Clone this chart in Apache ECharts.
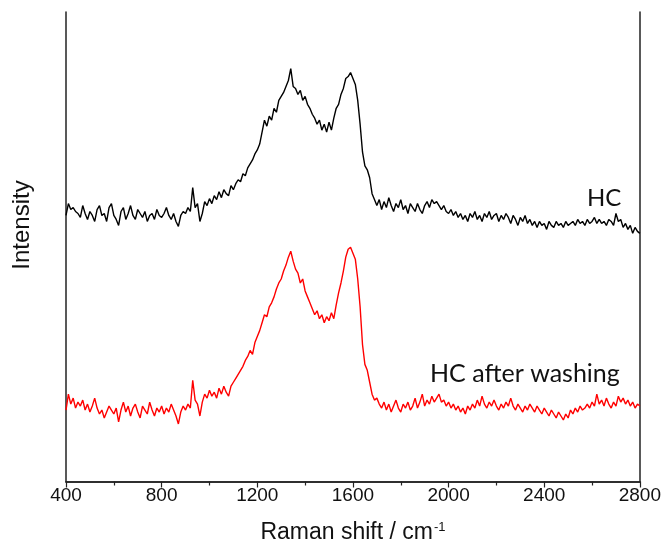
<!DOCTYPE html>
<html>
<head>
<meta charset="utf-8">
<script src="https://cdn.jsdelivr.net/npm/echarts@6/dist/echarts.min.js"></script>
<style>
  html, body { margin: 0; padding: 0; background: #fff; }
  #chart { width: 664px; height: 549px; }
</style>
</head>
<body>
<div id="chart"></div>
<script>
// Raman shift sampled every 10 cm-1 from 400 to 2800
const shiftStart = 400;
const shiftStep = 10;
const xTicks = [400, 800, 1200, 1600, 2000, 2400, 2800];

// intensity, arbitrary units
const hcIntensity = [
  268, 280, 274, 276, 272, 270, 266, 278, 270, 264,
  272, 268, 262, 274, 278, 268, 270, 262, 276, 280,
  268, 264, 258, 272, 276, 264, 270, 278, 268, 264,
  274, 270, 266, 272, 262, 268, 270, 264, 274, 268,
  266, 270, 276, 268, 264, 270, 262, 257, 268, 272,
  270, 276, 272, 296, 276, 280, 262, 270, 282, 278,
  285, 280, 288, 284, 292, 286, 294, 290, 288, 298,
  294, 300, 304, 302, 310, 308, 316, 320, 324, 330,
  334, 340, 352, 364, 358, 368, 364, 376, 372, 384,
  388, 392, 398, 404, 416, 398, 396, 390, 394, 384,
  388, 380, 376, 370, 366, 360, 364, 354, 360, 352,
  362, 354, 366, 376, 380, 390, 396, 406, 408, 412,
  406, 400, 384, 360, 332, 318, 314, 306, 290, 284,
  278, 284, 274, 282, 276, 286, 278, 272, 280, 276,
  284, 274, 278, 270, 280, 276, 272, 280, 274, 270,
  278, 282, 276, 284, 280, 282, 278, 274, 278, 272,
  270, 274, 268, 272, 266, 270, 264, 268, 262, 270,
  266, 272, 264, 268, 262, 270, 266, 272, 264, 268,
  270, 262, 268, 264, 270, 266, 260, 268, 264, 258,
  266, 262, 268, 260, 264, 258, 262, 256, 262, 258,
  260, 254, 262, 258, 256, 262, 258, 260, 256, 262,
  258, 260, 262, 258, 264, 260, 262, 258, 264, 260,
  262, 266, 260, 264, 260, 262, 258, 264, 262, 258,
  270, 262, 264, 256, 260, 254, 258, 250, 256, 252,
  250
];

const washedIntensity = [
  72, 88, 78, 84, 74, 80, 76, 82, 72, 78,
  70, 76, 84, 74, 68, 72, 64, 70, 76, 72,
  68, 74, 60, 72, 80, 70, 76, 66, 74, 78,
  70, 64, 76, 72, 68, 80, 72, 66, 74, 70,
  76, 68, 74, 70, 78, 72, 66, 58, 70, 76,
  72, 78, 74, 102, 82, 78, 66, 80, 88, 84,
  92, 86, 90, 84, 94, 88, 96, 90, 86, 96,
  100, 104, 108, 112, 116, 122, 126, 132, 128, 140,
  146, 152, 160, 168, 166, 176, 180, 186, 194, 200,
  204, 212, 218, 226, 232, 222, 214, 210, 200, 204,
  192, 186, 180, 174, 168, 172, 164, 168, 160, 166,
  162, 170, 164, 178, 190, 200, 212, 226, 234, 236,
  230, 224, 204, 176, 138, 118, 112, 100, 88, 82,
  84, 78, 74, 80, 72, 78, 70, 76, 82, 74,
  70, 78, 74, 80, 72, 76, 84, 74, 80, 88,
  76, 82, 78, 86, 80, 84, 88, 80, 82, 76,
  80, 74, 78, 72, 76, 70, 74, 68, 76, 72,
  78, 74, 82, 76, 86, 78, 74, 80, 76, 82,
  76, 72, 78, 74, 80, 76, 84, 76, 72, 78,
  74, 70, 76, 72, 78, 74, 70, 76, 72, 68,
  74, 70, 66, 72, 68, 64, 70, 66, 62, 68,
  64, 72, 68, 74, 70, 76, 72, 74, 78, 74,
  80, 76, 88, 78, 82, 76, 84, 78, 74, 80,
  76, 86, 80, 84, 78, 82, 76, 80, 74, 78,
  76
];

const toPairs = arr => arr.map((v, i) => [shiftStart + i * shiftStep, v]);

const chart = echarts.init(document.getElementById('chart'));

const axisLine = { show: true, lineStyle: { color: '#222', width: 1.5 } };

const option = {
  backgroundColor: '#fff',
  animation: false,
  grid: { left: 66, right: 23, top: 12, bottom: 64 },
  xAxis: [
    {
      type: 'value',
      min: 400,
      max: 2800,
      interval: 400,
      axisLine: axisLine,
      axisTick: { show: true, inside: false, length: 6, lineStyle: { color: '#222', width: 1.2 } },
      minorTick: { show: true, splitNumber: 2, length: 4, lineStyle: { color: '#222', width: 1.2 } },
      axisLabel: {
        margin: 5,
        color: '#111',
        fontFamily: 'Liberation Sans',
        fontSize: 19,
        formatter: v => (xTicks.includes(v) ? String(v) : '')
      },
      splitLine: { show: false },
      name: '{a|Raman shift / cm}{s|-1}',
      nameLocation: 'middle',
      nameGap: 39,
      nameTextStyle: {
        rich: {
          a: { fontFamily: 'Liberation Sans', fontSize: 23, color: '#111' },
          s: { fontFamily: 'Liberation Sans', fontSize: 13, color: '#111', verticalAlign: 'top', padding: [0, 0, 11, 1] }
        }
      }
    },
    {
      type: 'value',
      position: 'top',
      min: 400,
      max: 2800,
      axisLine: axisLine,
      axisTick: { show: false },
      axisLabel: { show: false },
      splitLine: { show: false }
    }
  ],
  yAxis: [
    {
      type: 'value',
      min: 0,
      max: 473,
      axisLine: axisLine,
      axisTick: { show: false },
      axisLabel: { show: false },
      splitLine: { show: false }
    },
    {
      type: 'value',
      position: 'right',
      min: 0,
      max: 473,
      axisLine: axisLine,
      axisTick: { show: false },
      axisLabel: { show: false },
      splitLine: { show: false }
    }
  ],
  graphic: [
    {
      type: 'text',
      x: 22,
      y: 225,
      rotation: Math.PI / 2,
      style: {
        text: 'Intensity',
        fontFamily: 'Liberation Sans',
        fontSize: 24,
        fill: '#111',
        align: 'center',
        verticalAlign: 'middle'
      }
    },
    {
      type: 'text',
      x: 587,
      y: 198,
      style: {
        text: 'HC',
        fontFamily: 'Lato',
        fontSize: 24,
        fill: '#111',
        verticalAlign: 'middle'
      }
    },
    {
      type: 'text',
      x: 430,
      y: 374,
      style: {
        text: 'HC after washing',
        fontFamily: 'Lato',
        fontSize: 25,
        fill: '#111',
        verticalAlign: 'middle'
      }
    }
  ],
  series: [
    {
      name: 'HC',
      type: 'line',
      data: toPairs(hcIntensity),
      showSymbol: false,
      lineStyle: { color: '#000', width: 1.4 },
      z: 3
    },
    {
      name: 'HC after washing',
      type: 'line',
      data: toPairs(washedIntensity),
      showSymbol: false,
      lineStyle: { color: '#ff0000', width: 1.4 },
      z: 3
    }
  ]
};

chart.setOption(option);
</script>
</body>
</html>
